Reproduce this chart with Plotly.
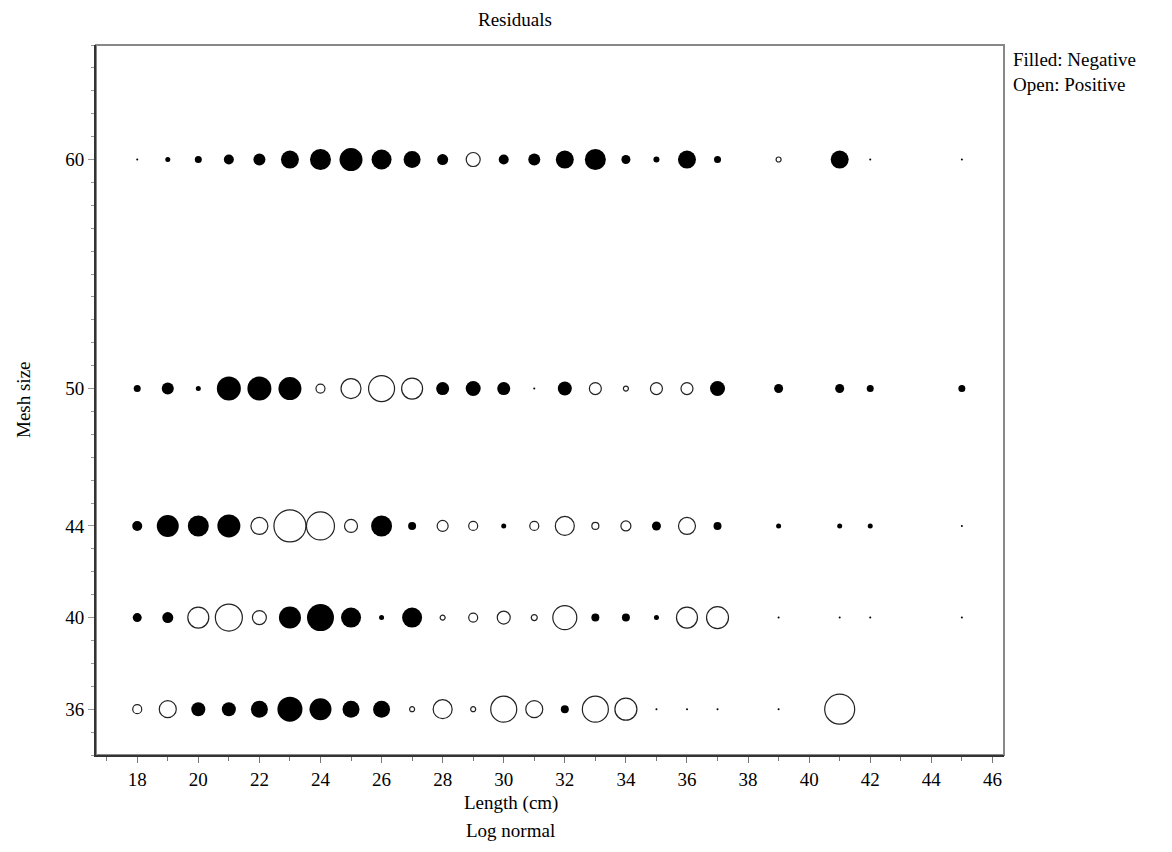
import plotly.graph_objects as go

# Data: lengths (cm) and residuals per mesh size (negative = filled, positive = open)
lengths = [18, 19, 20, 21, 22, 23, 24, 25, 26, 27, 28, 29, 30, 31, 32, 33, 34, 35, 36, 37, 39, 41, 42, 45]
mesh_sizes = [60, 50, 44, 40, 36]

resid_60 = [-0.2, -0.5, -0.7, -1.0, -1.2, -1.8, -2.1, -2.3, -2.0, -1.7, -1.1, 1.4, -1.0, -1.2,
            -1.8, -2.1, -0.9, -0.6, -1.8, -0.7, 0.5, -1.8, -0.2, -0.2]
resid_50 = [-0.7, -1.2, -0.5, -2.4, -2.4, -2.3, 0.9, 2.0, 2.6, 2.1, -1.3, -1.5, -1.3, -0.2,
            -1.4, 1.2, 0.5, 1.2, 1.2, -1.5, -0.9, -0.9, -0.7, -0.7]
resid_44 = [-1.0, -2.2, -2.1, -2.3, 1.7, 3.2, 2.8, 1.3, -2.1, -0.8, 1.1, 0.9, -0.5, 0.9,
            1.9, 0.7, 1.0, -0.9, 1.7, -0.8, -0.5, -0.5, -0.5, -0.2]
resid_40 = [-0.9, -1.1, 2.1, 2.7, 1.4, -2.2, -2.7, -2.0, -0.5, -2.0, 0.5, 0.9, 1.3, 0.6,
            2.4, -0.8, -0.8, -0.5, 2.1, 2.2, -0.2, -0.2, -0.2, -0.2]
resid_36 = [0.9, 1.7, -1.4, -1.4, -1.7, -2.5, -2.2, -1.7, -1.7, 0.5, 1.9, 0.5, 2.6, 1.7,
            -0.8, 2.6, 2.2, -0.2, -0.2, -0.2, -0.2, 3.0, None, None]

x_ticks = list(range(18, 47, 2))
y_ticks = [36, 40, 44, 50, 60]

rows = [resid_60, resid_50, resid_44, resid_40, resid_36]

neg_x, neg_y, neg_s = [], [], []
pos_x, pos_y, pos_s = [], [], []
for mesh, resid in zip(mesh_sizes, rows):
    for L, r in zip(lengths, resid):
        if r is None:
            continue
        if r < 0:
            neg_x.append(L); neg_y.append(mesh); neg_s.append(abs(r))
        else:
            pos_x.append(L); pos_y.append(mesh); pos_s.append(abs(r))

FONT = "Liberation Serif, Times New Roman, serif"

fig = go.Figure()
fig.add_trace(go.Scatter(
    x=neg_x, y=neg_y, mode="markers",
    marker=dict(size=neg_s, sizemode="diameter", sizeref=0.1, color="black",
                opacity=1, line=dict(width=0)),
    showlegend=False, hoverinfo="skip"))
fig.add_trace(go.Scatter(
    x=pos_x, y=pos_y, mode="markers",
    marker=dict(size=pos_s, sizemode="diameter", sizeref=0.1, color="white",
                opacity=1, line=dict(width=1.2, color="#222")),
    showlegend=False, hoverinfo="skip"))

fig.update_layout(
    width=1164, height=844,
    margin=dict(l=88, r=168, t=37, b=97),
    paper_bgcolor="white", plot_bgcolor="white",
    font=dict(family=FONT, size=19, color="black"),
    xaxis=dict(range=[16.65, 46.38], tickmode="array", tickvals=x_ticks,
               showgrid=False, zeroline=False, showline=True, linecolor="#333", linewidth=2,
               ticks="outside", ticklen=6, tickcolor="#777", tickwidth=1,
               minor=dict(dtick=1, tick0=17, ticks="outside", ticklen=4, tickcolor="#777", showgrid=False),
               tickfont=dict(family=FONT, size=19)),
    yaxis=dict(range=[34, 65], tickmode="array", tickvals=y_ticks,
               showgrid=False, zeroline=False, showline=True, linecolor="#333", linewidth=2,
               ticks="outside", ticklen=6, tickcolor="#999", tickwidth=1,
               minor=dict(dtick=1, tick0=34, ticks="outside", ticklen=3, tickcolor="#999", showgrid=False),
               tickfont=dict(family=FONT, size=19)),
    shapes=[dict(type="rect", xref="paper", yref="paper", x0=0, x1=1, y0=0, y1=1,
                 line=dict(color="#888", width=2), layer="below")],
    annotations=[
        dict(text="Residuals", xref="paper", yref="paper", x=0.461, y=1.0,
             yshift=26, xanchor="center", yanchor="middle", showarrow=False,
             font=dict(family=FONT, size=19)),
        dict(text="Length (cm)", xref="paper", yref="paper", x=0.457, y=0,
             yshift=-48, xanchor="center", yanchor="middle", showarrow=False,
             font=dict(family=FONT, size=19)),
        dict(text="Log normal", xref="paper", yref="paper", x=0.457, y=0,
             yshift=-75, xanchor="center", yanchor="middle", showarrow=False,
             font=dict(family=FONT, size=19)),
        dict(text="Mesh size", xref="paper", yref="paper", x=0, xshift=-73, y=0.5,
             textangle=-90, xanchor="center", yanchor="middle", showarrow=False,
             font=dict(family=FONT, size=19)),
        dict(text="Filled: Negative<br>Open: Positive", xref="paper", yref="paper",
             x=1, xshift=7, y=1, yshift=-2, xanchor="left", yanchor="top", align="left",
             showarrow=False, font=dict(family=FONT, size=19)),
    ],
)

fig.write_html("out.html")
